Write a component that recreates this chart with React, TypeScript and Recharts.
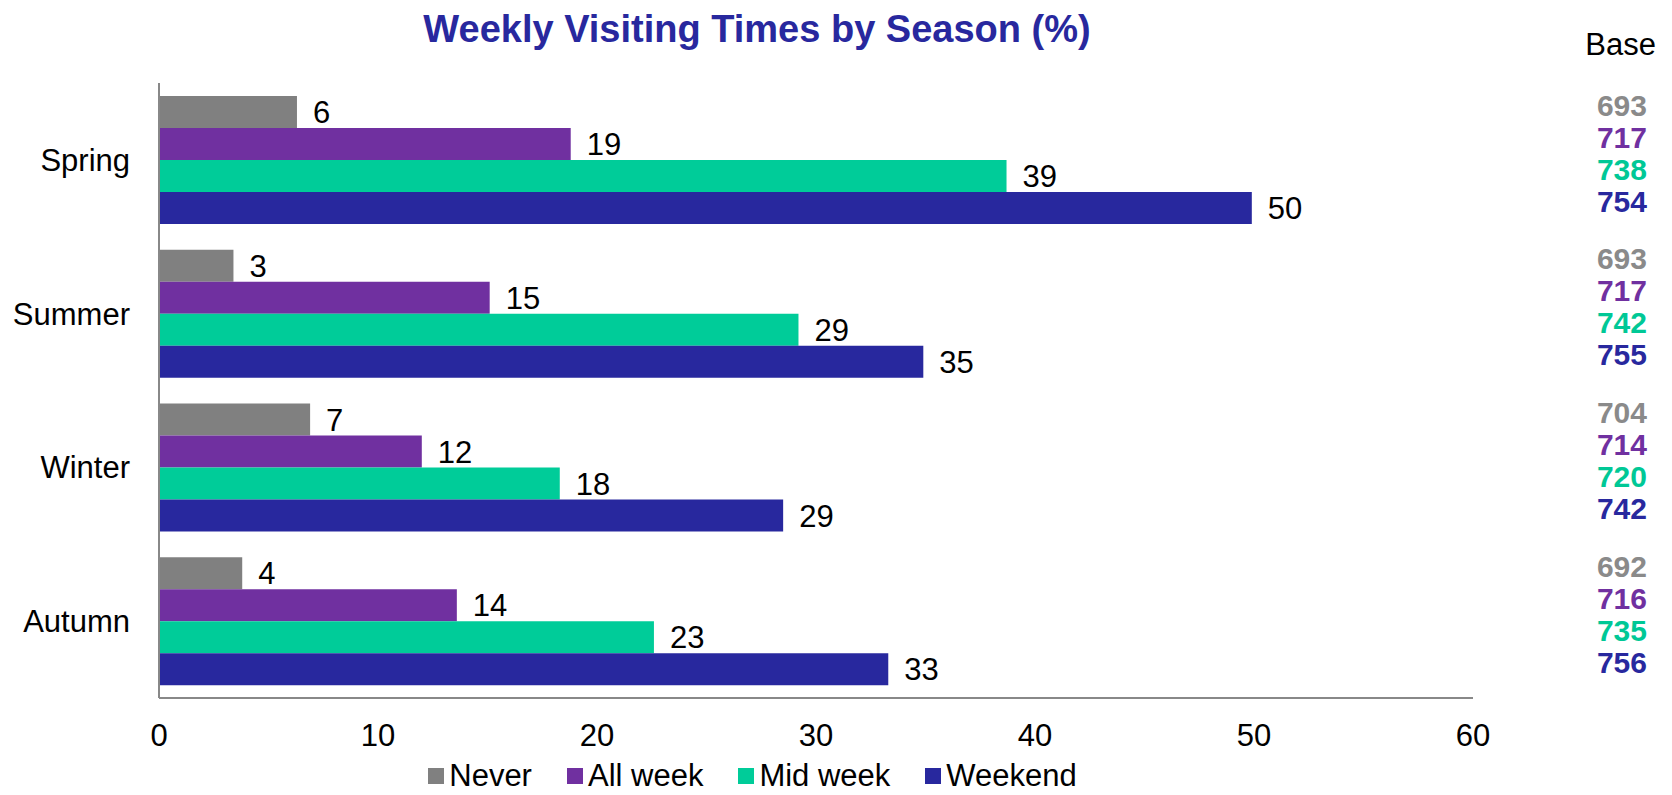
import { Bar, BarChart, LabelList, Legend, XAxis, YAxis } from 'recharts'

const seasons = ['Spring', 'Summer', 'Winter', 'Autumn']
const never = [6.3, 3.4, 6.9, 3.8]
const allWeek = [18.8, 15.1, 12.0, 13.6]
const midWeek = [38.7, 29.2, 18.3, 22.6]
const weekend = [49.9, 34.9, 28.5, 33.3]
const neverBase = [693, 693, 704, 692]
const allWeekBase = [717, 717, 714, 716]
const midWeekBase = [738, 742, 720, 735]
const weekendBase = [754, 755, 742, 756]
const xTicks = [0, 10, 20, 30, 40, 50, 60]

const FONT = '"Liberation Sans", Arial, sans-serif'
const NAVY = '#28289e'

const series = [
  { key: 'never', name: 'Never', color: '#808080', baseColor: '#8a8a8a' },
  { key: 'allWeek', name: 'All week', color: '#7030a0', baseColor: '#7030a0' },
  { key: 'midWeek', name: 'Mid week', color: '#00cc99', baseColor: '#00c896' },
  { key: 'weekend', name: 'Weekend', color: NAVY, baseColor: NAVY },
]

const data = seasons.map((season, i) => ({
  season,
  never: never[i],
  allWeek: allWeek[i],
  midWeek: midWeek[i],
  weekend: weekend[i],
  neverBase: neverBase[i],
  allWeekBase: allWeekBase[i],
  midWeekBase: midWeekBase[i],
  weekendBase: weekendBase[i],
}))

// base counts sit in a column at the right edge, lined up with each bar
const baseLabel = (color: string) => (props: any) => {
  const { y, height, value } = props
  return (
    <text
      x={1647}
      y={Number(y) + Number(height) / 2 - 7}
      textAnchor="end"
      dominantBaseline="central"
      fontSize={30}
      fontWeight="bold"
      fill={color}
      fontFamily={FONT}
    >
      {value}
    </text>
  )
}

function LegendContent() {
  return (
    <div style={{ display: 'flex', justifyContent: 'center', alignItems: 'center', fontSize: 31, lineHeight: '26px', height: 26, color: '#000' }}>
      {series.map((s, i) => (
        <div key={s.key} style={{ display: 'flex', alignItems: 'center', marginRight: i < series.length - 1 ? 35 : 0 }}>
          <span style={{ width: 16, height: 16, background: s.color, marginRight: 5, display: 'inline-block' }} />
          <span>{s.name}</span>
        </div>
      ))}
    </div>
  )
}

export default function App() {
  return (
    <div style={{ position: 'fixed', left: 0, top: 0, width: 1672, height: 795, fontFamily: FONT, background: '#fff' }}>
      <div
        style={{
          position: 'absolute', left: 0, top: 10, width: 1514, textAlign: 'center',
          fontSize: 38, lineHeight: '38px', fontWeight: 'bold', color: NAVY, zIndex: 2,
        }}
      >
        Weekly Visiting Times by Season (%)
      </div>
      <div style={{ position: 'absolute', right: 16, top: 29, fontSize: 31, lineHeight: '31px', color: '#000', zIndex: 2 }}>
        Base
      </div>
      <BarChart
        width={1672}
        height={795}
        data={data}
        layout="vertical"
        margin={{ top: 83, right: 199, bottom: 47, left: 0 }}
        barCategoryGap={13}
        barGap={0}
      >
        <XAxis
          type="number"
          domain={[0, 60]}
          ticks={xTicks}
          height={50}
          tickLine={false}
          tickSize={0}
          tickMargin={26}
          axisLine={{ stroke: '#888888', strokeWidth: 2 }}
          tick={{ fontSize: 31, fill: '#000' }}
        />
        <YAxis
          type="category"
          dataKey="season"
          width={159}
          tickLine={false}
          tickSize={0}
          tickMargin={29}
          axisLine={{ stroke: '#888888', strokeWidth: 2 }}
          tick={{ fontSize: 31, fill: '#000' }}
        />
        <Legend
          layout="horizontal"
          verticalAlign="middle"
          align="center"
          wrapperStyle={{ top: 763, left: 0, width: 1505 }}
          content={<LegendContent />}
        />
        {series.map((s) => (
          <Bar key={s.key} dataKey={s.key} name={s.name} fill={s.color} isAnimationActive={false}>
            <LabelList
              dataKey={s.key}
              position="right"
              offset={16}
              formatter={(v: any) => Math.round(Number(v))}
              fill="#000"
              fontSize={31}
            />
            <LabelList dataKey={`${s.key}Base`} content={baseLabel(s.baseColor)} />
          </Bar>
        ))}
      </BarChart>
    </div>
  )
}
